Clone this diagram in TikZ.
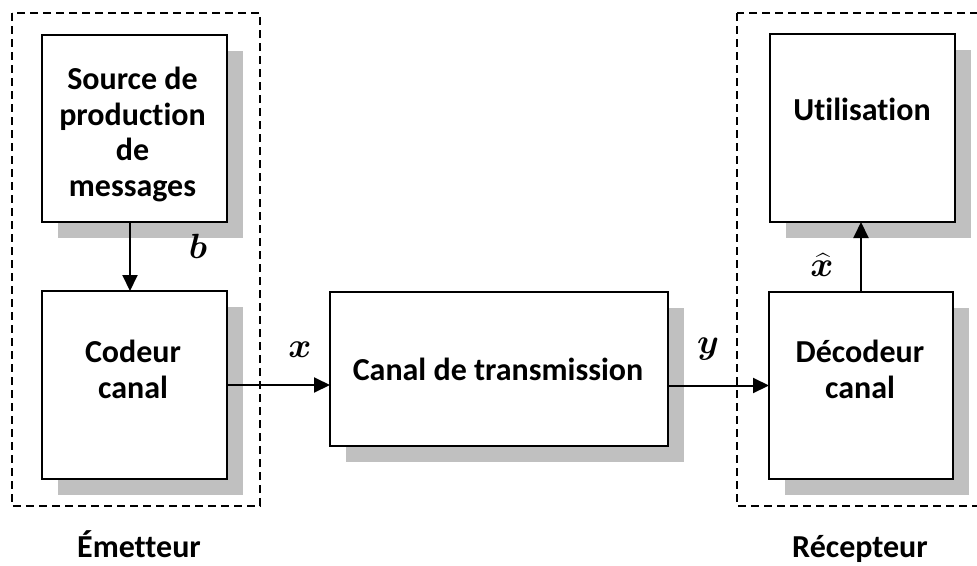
\documentclass[tikz,border=0pt]{standalone}
\usepackage{fix-cm}
\usepackage{amsmath}
\usepackage{bm}
\usepackage{fontspec}
\setmainfont{Carlito}[Ligatures=CommonOff]
\usetikzlibrary{arrows.meta,shadows}
\definecolor{shgray}{HTML}{C0C0C0}
\tikzset{
  blockbox/.style={draw, line width=1.8pt, fill=white, inner sep=0pt, outer sep=0pt,
    drop shadow={shadow xshift=16pt, shadow yshift=-16pt, fill=shgray, opacity=1}},
  boxtext/.style={font=\bfseries\fontsize{32}{35.5}\selectfont, align=center, inner sep=0pt, anchor=base},
  sigtext/.style={font=\fontsize{35}{38}\selectfont, inner sep=0pt, anchor=base},
  grouptext/.style={font=\bfseries\fontsize{32}{35.5}\selectfont, inner sep=0pt, anchor=base},
  groupbox/.style={draw, line width=1.3pt, dash pattern=on 8pt off 5pt},
  flow/.style={line width=2pt, -{Triangle[length=16pt,width=15pt]}}
}
\begin{document}
\begin{tikzpicture}[x=1pt,y=-1pt]
\clip (0,0) rectangle (977,565);
\fill[white] (0,0) rectangle (977,565);
% group frames
\draw[groupbox] (12,13) rectangle (260,506);
\draw[groupbox] (737,13) rectangle (995,506);
% blocks
\node[blockbox, minimum width=185pt, minimum height=187pt] (src) at (134.5,128.5) {};
\node[blockbox, minimum width=185pt, minimum height=188pt] (cod) at (134.5,385) {};
\node[blockbox, minimum width=338pt, minimum height=154pt] (can) at (499,369) {};
\node[blockbox, minimum width=185pt, minimum height=188pt] (util) at (862.5,128) {};
\node[blockbox, minimum width=184pt, minimum height=187pt] (dec) at (861,385.5) {};
% block texts (base = baseline of last line)
\node[boxtext] (srct) at (132.5,196) {Source de\\production\\de\\messages};
\node[boxtext] (codt) at (133,398) {Codeur\\canal};
\node[boxtext] (cant) at (498,380) {Canal de transmission};
\node[boxtext] (utilt) at (862,120) {Utilisation};
\node[boxtext] (dect) at (860,398) {Décodeur\\canal};
% connectors
\draw[flow] ([xshift=-4.5pt]src.south) -- ([xshift=-4.5pt]cod.north);
\draw[flow] (cod.east) -- (cod.east -| can.west);
\draw[flow] (can.east |- dec.west) -- (dec.west);
\draw[flow] (dec.north) -- (dec.north |- util.south);
% signal labels
\node[sigtext] (sigb) at (198,258) {$\bm{b}$};
\node[sigtext] (sigx) at (300,357) {$\bm{x}$};
\node[sigtext] (sigy) at (708,353) {$\bm{y}$};
\node[sigtext] (sigxh) at (822,276) {$\bm{\widehat{x}}$};
% group labels
\node[grouptext] (em) at (139,557) {Émetteur};
\node[grouptext] (rec) at (860,557) {Récepteur};
\end{tikzpicture}
\end{document}
